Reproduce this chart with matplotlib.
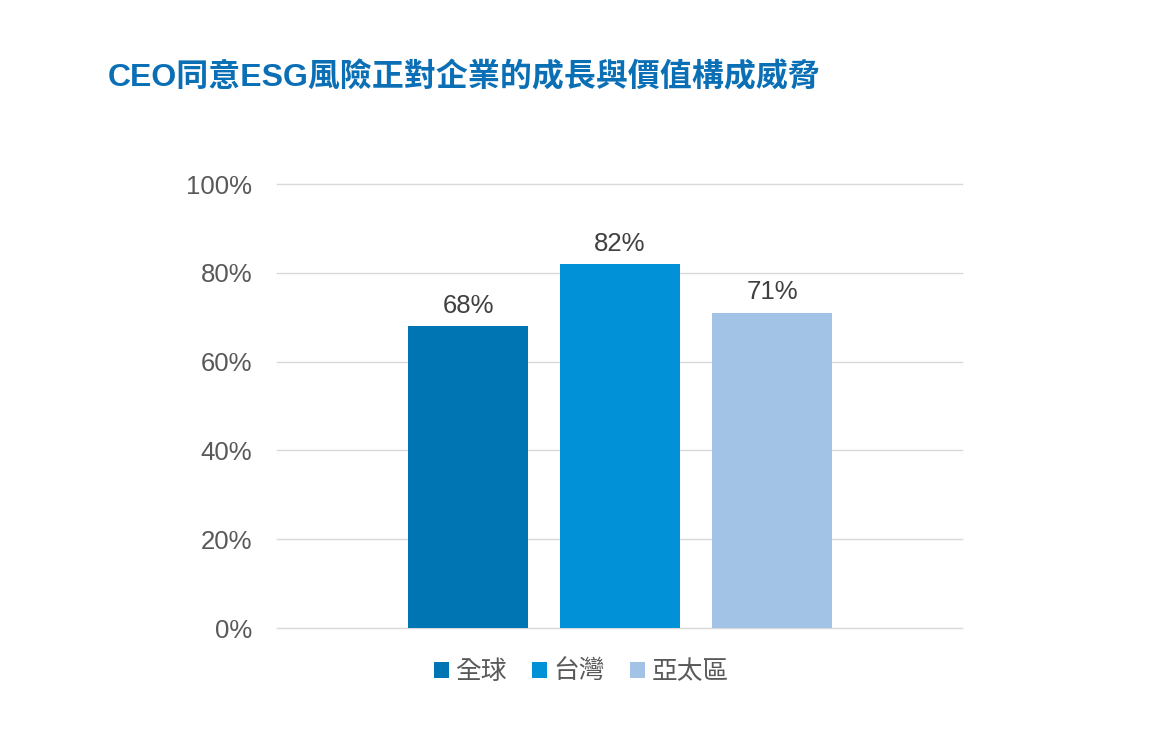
import matplotlib
matplotlib.use("Agg")
import matplotlib.pyplot as plt
from matplotlib.ticker import FuncFormatter

plt.rcParams['font.family'] = ['Liberation Sans', 'Noto Sans CJK TC', 'DejaVu Sans']

# data
title = "CEO同意ESG風險正對企業的成長與價值構成威脅"
regions = ["全球", "台灣", "亞太區"]
values = [0.68, 0.82, 0.71]
colors = ["#0075B4", "#0091D7", "#A2C3E6"]
yticks = [0, 0.2, 0.4, 0.6, 0.8, 1.0]

fig = plt.figure(figsize=(11.63, 7.55), dpi=100)
ax = fig.add_axes([277 / 1163, 127 / 755, 685 / 1163, 444 / 755])

xs = range(len(regions))
bars = ax.bar(xs, values, width=0.79, color=colors, label=regions, zorder=3)

for x, v in zip(xs, values):
    ax.annotate(f"{v:.0%}", (x, v), xytext=(0, 6), textcoords="offset points",
                ha="center", va="bottom", fontsize=18.5, color="#404040")

ax.set_xlim(-1.257, 3.25)
ax.set_ylim(0, 1.0)
ax.set_yticks(yticks)
ax.yaxis.set_major_formatter(FuncFormatter(lambda v, p: f"{v:.0%}"))
ax.tick_params(axis="y", length=0, pad=18, labelsize=18.5, labelcolor="#595959")
ax.set_xticks([])
ax.grid(axis="y", color="#D9D9D9", linewidth=1, zorder=0)
for gl in ax.get_ygridlines():
    gl.set_clip_on(False)
for s in ax.spines.values():
    s.set_visible(False)

fig.text(108 / 1163, 1 - 78 / 755, title, fontsize=23, fontweight="bold",
         color="#0A6FB5", ha="left", va="center")

fig.legend(bars, regions, loc="center", bbox_to_anchor=(0.5, 83 / 755),
           ncol=3, frameon=False, fontsize=18.5, labelcolor="#595959",
           handlelength=0.56, handleheight=0.56, handletextpad=0.25,
           columnspacing=1.0)

fig.savefig("out.png", dpi=100, facecolor="white")
